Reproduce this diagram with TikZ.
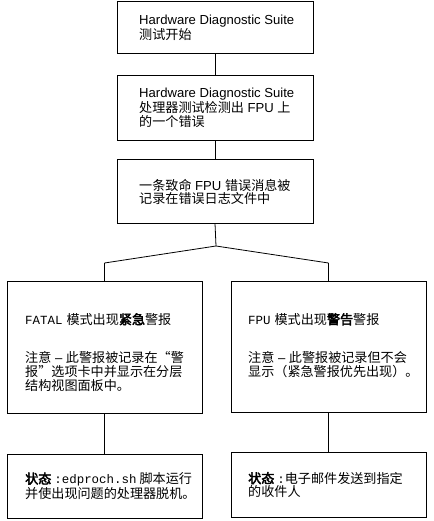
\documentclass[tikz,border=0pt]{standalone}
\usepackage{fontspec}
\setmainfont{Liberation Sans}
\setmonofont{Liberation Mono}[Scale=0.95]
\newfontfamily\cjk[AutoFakeBold=3]{Noto Sans CJK SC}
\begin{document}
\begin{tikzpicture}[x=1pt,y=-1pt,
  box/.style={draw, line width=0.8pt, inner sep=0pt},
  txt/.style={align=left, inner sep=0pt, font=\fontsize{13.1}{13.6}\selectfont},
  link/.style={draw, line width=0.8pt}]
\useasboundingbox (0,0) rectangle (433,521);
\node[box, minimum width=196pt, minimum height=51.5pt] (b1) at (215,27.25) {};
\node[box, minimum width=196pt, minimum height=65pt] (b2) at (215,107.5) {};
\node[box, minimum width=196pt, minimum height=64pt] (b3) at (215,191) {};
\node[box, minimum width=195pt, minimum height=132pt] (L) at (104.5,347) {};
\node[box, minimum width=195pt, minimum height=131pt] (R) at (328.5,346.5) {};
\node[box, minimum width=195pt, minimum height=64pt] (LB) at (104.5,486) {};
\node[box, minimum width=195pt, minimum height=65pt] (RB) at (328.5,484.5) {};

\node[txt, anchor=west] (t1) at (139,27.5) {Hardware Diagnostic Suite\\{\cjk 测试开始}};
\node[txt, anchor=west] (t2) at (139,108) {Hardware Diagnostic Suite\\{\cjk 处理器测试检测出} FPU {\cjk 上}\\{\cjk 的一个错误}};
\node[txt, anchor=west] (t3) at (139,192) {{\cjk 一条致命} FPU {\cjk 错误消息被}\\{\cjk 记录在错误日志文件中}};
\node[txt, anchor=north west] (tL) at (25,313) {{\ttfamily FATAL}\hspace{4pt}{\cjk 模式出现{\bfseries 紧急}警报}\\[25pt]{\cjk 注意} – {\cjk 此警报被记录在“警}\\{\cjk 报”选项卡中并显示在分层}\\{\cjk 结构视图面板中。}};
\node[txt, anchor=north west] (tR) at (248,313) {{\ttfamily FPU}\hspace{4pt}{\cjk 模式出现{\bfseries 警告}警报}\\[25pt]{\cjk 注意} – {\cjk 此警报被记录但不会}\\{\cjk 显示（紧急警报优先出现）。}};
\node[txt, anchor=west] (tLB) at (25,486) {{\cjk\bfseries 状态}\hspace{3pt}{\ttfamily:edproch.sh}\hspace{3pt}{\cjk 脚本运行}\\{\cjk 并使出现问题的处理器脱机。}};
\node[txt, anchor=west] (tRB) at (248,485) {{\cjk\bfseries 状态}\hspace{3pt}{\ttfamily:}{\cjk 电子邮件发送到指定}\\{\cjk 的收件人}};

\coordinate (peak) at (216,246);
\coordinate (lk) at (104.5,263);
\coordinate (rk) at (328.5,263);
\draw[link] (b1.south) -- (b2.north);
\draw[link] (b2.south) -- (b3.north);
\draw[link] (b3.south) -- (peak);
\draw[link] (lk) -- (peak) -- (rk);
\draw[link] (lk) -- (L.north);
\draw[link] (rk) -- (R.north);
\draw[link] (L.south) -- (LB.north);
\draw[link] (R.south) -- (RB.north);
\end{tikzpicture}
\end{document}
